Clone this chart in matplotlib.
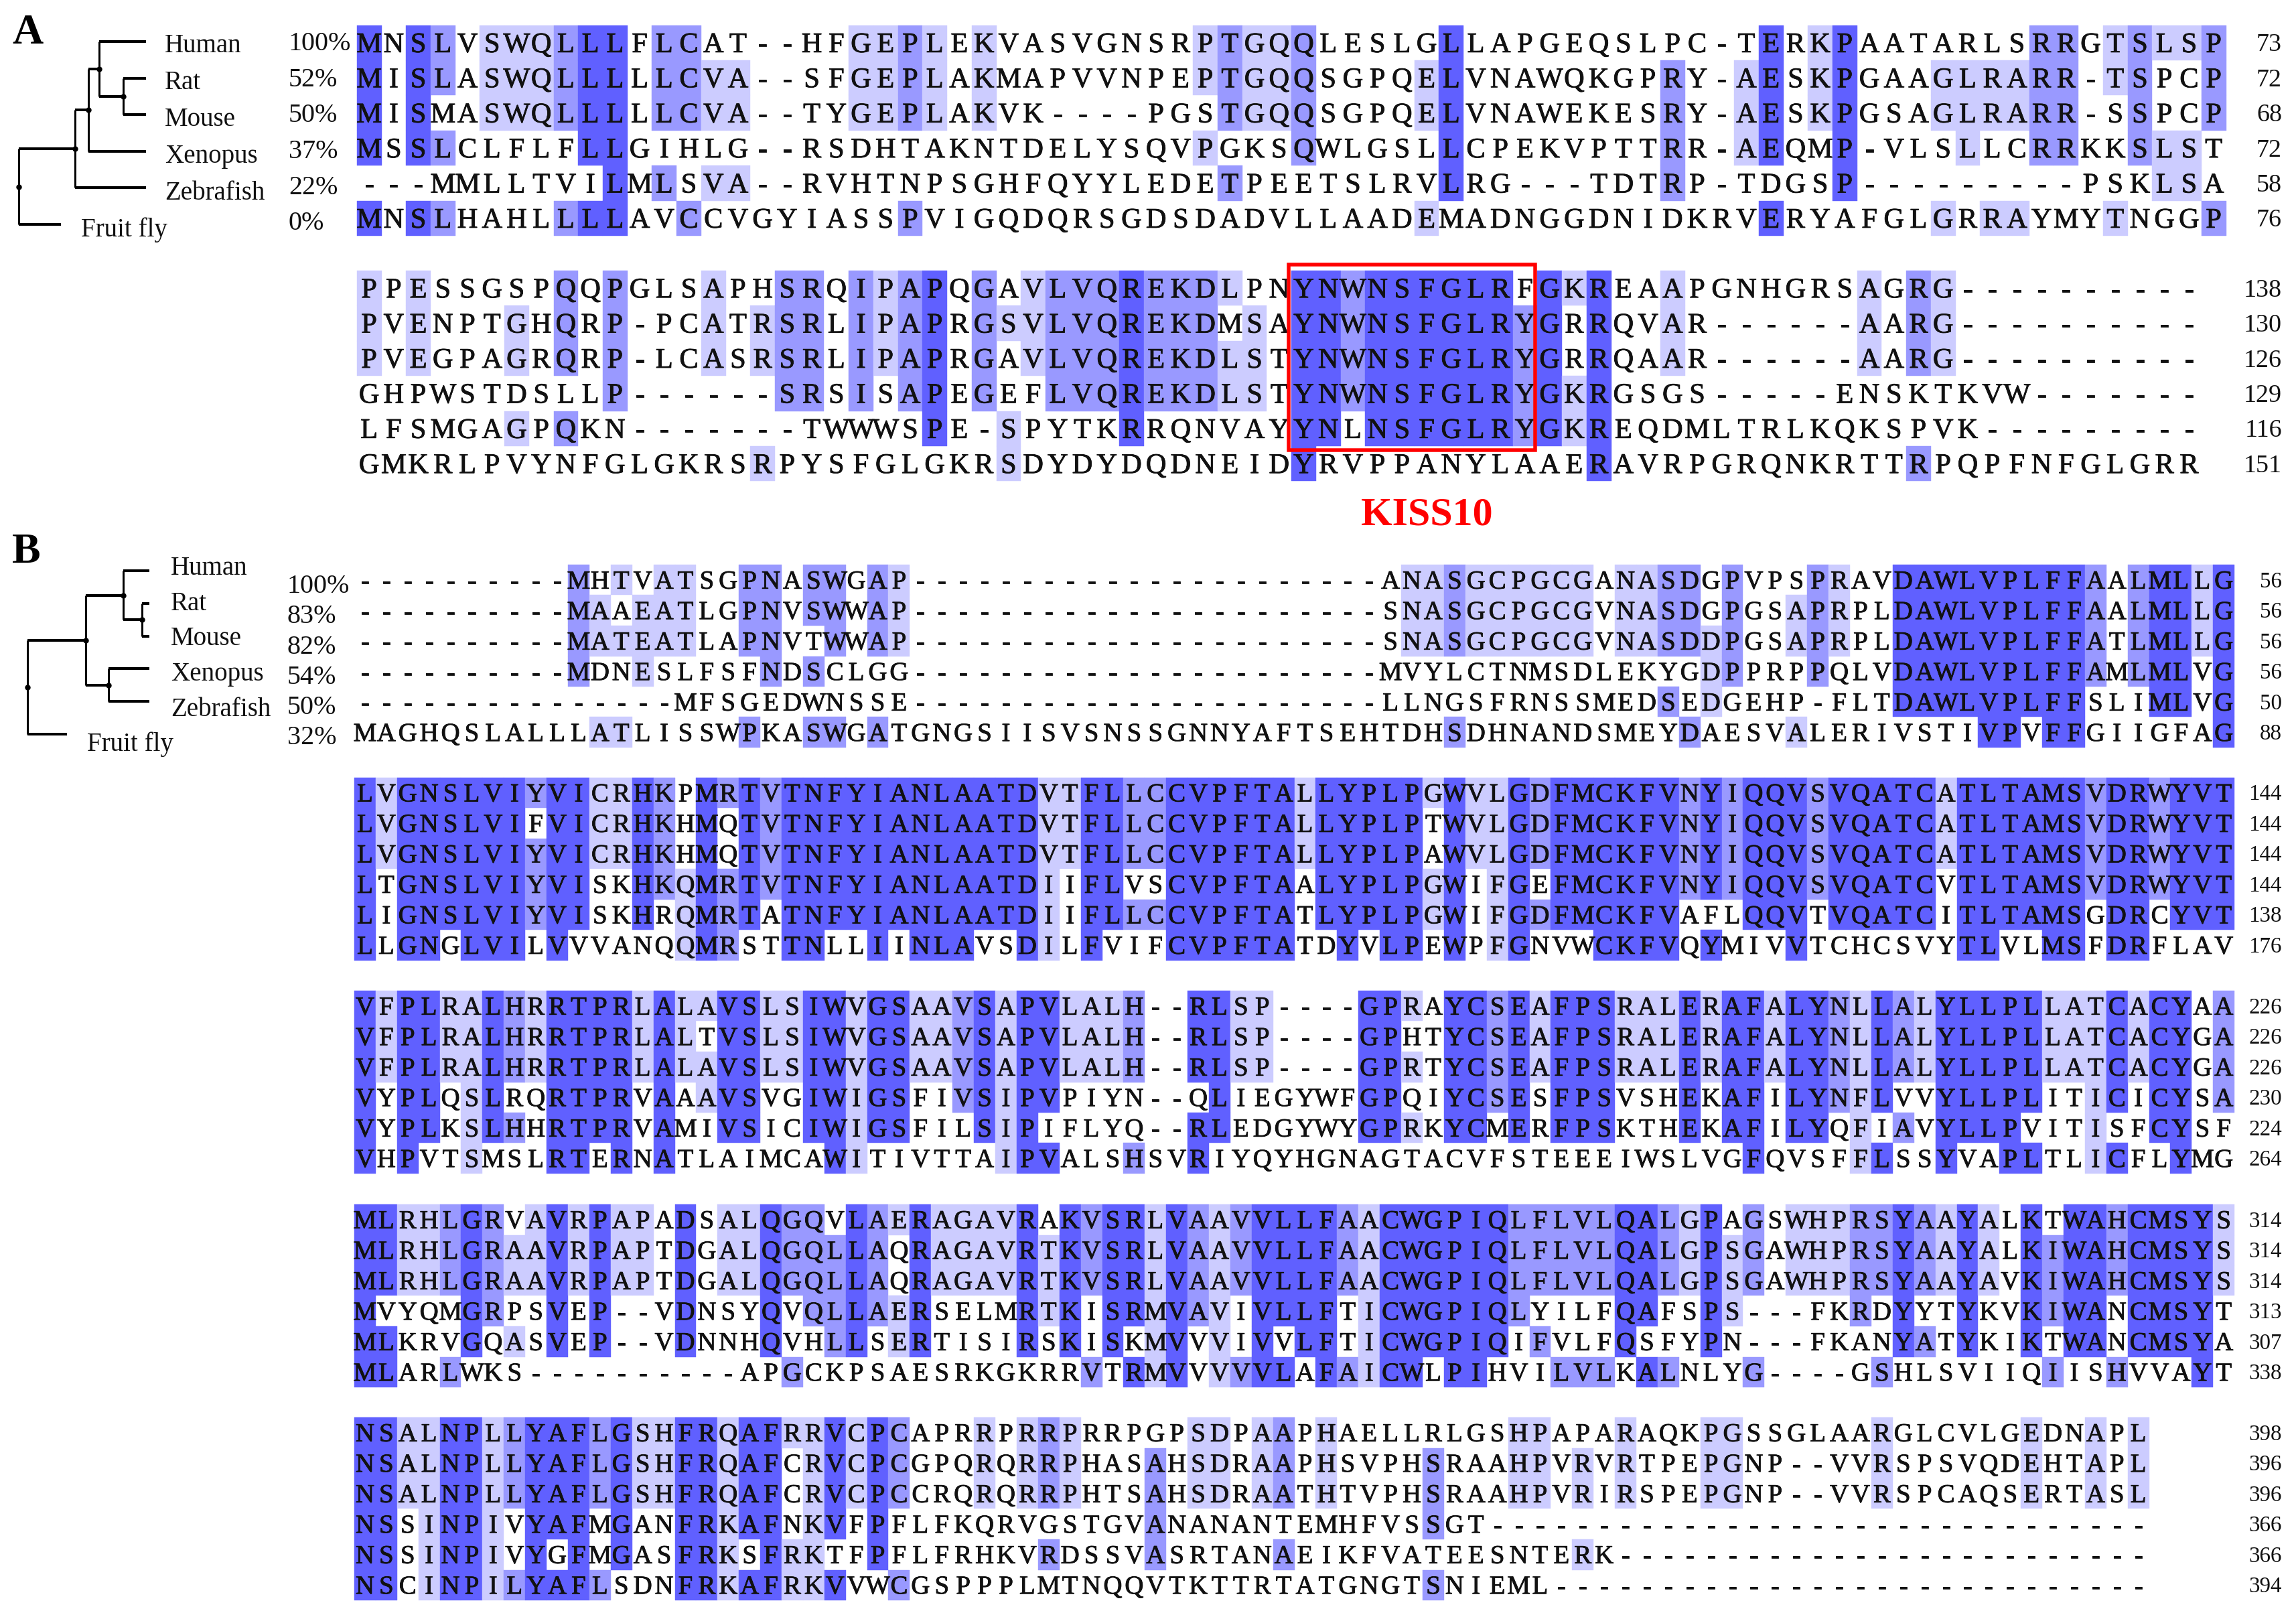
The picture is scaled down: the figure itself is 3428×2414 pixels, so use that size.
import matplotlib
matplotlib.use("Agg")
import matplotlib.pyplot as plt
import matplotlib.patheffects as pe
from matplotlib.patches import Rectangle
from collections import Counter

# ---------- data ----------
species = ["Human", "Rat", "Mouse", "Xenopus", "Zebrafish", "Fruit fly"]
identity_a = ["100%", "52%", "50%", "37%", "22%", "0%"]
identity_b = ["100%", "83%", "82%", "54%", "50%", "32%"]

a1 = ["MNSLVSWQLLLFLCAT--HFGEPLEKVASVGNSRPTGQQLESLGLLAPGEQSLPC-TERKPAATARLSRRGTSLSP",
      "MISLASWQLLLLLCVA--SFGEPLAKMAPVVNPEPTGQQSGPQELVNAWQKGPRY-AESKPGAAGLRARR-TSPCP",
      "MISMASWQLLLLLCVA--TYGEPLAKVK----PGSTGQQSGPQELVNAWEKESRY-AESKPGSAGLRARR-SSPCP",
      "MSSLCLFLFLLGIHLG--RSDHTAKNTDELYSQVPGKSQWLGSLLCPEKVPTTRR-AEQMP-VLSLLCRRKKSLST",
      "---MMLLTVILMLSVA--RVHTNPSGHFQYYLEDETPEETSLRVLRG---TDTRP-TDGSP---------PSKLSA",
      "MNSLHAHLLLLAVCCVGYIASSPVIGQDQRSGDSDADVLLAADEMADNGGDNIDKRVERYAFGLGRRAYMYTNGGP"]
a1_end = [73, 72, 68, 72, 58, 76]

a2 = ["PPESSGSPQQPGLSAPHSRQIPAPQGAVLVQREKDLPNYNWNSFGLRFGKREAAPGNHGRSAGRG----------",
      "PVENPTGHQRP-PCATRSRLIPAPRGSVLVQREKDMSAYNWNSFGLRYGRRQVAR------AARG----------",
      "PVEGPAGRQRP-LCASRSRLIPAPRGAVLVQREKDLSTYNWNSFGLRYGRRQAAR------AARG----------",
      "GHPWSTDSLLP------SRSISAPEGEFLVQREKDLSTYNWNSFGLRYGKRGSGS-----ENSKTKVW-------",
      "LFSMGAGPQKN-------TWWWSPE-SPYTKRRQNVAYYNLNSFGLRYGKREQDMLTRLKQKSPVK---------",
      "GMKRLPVYNFGLGKRSRPYSFGLGKRSDYDYDQDNEIDYRVPPANYLAAERAVRPGRQNKRTTRPQPFNFGLGRR"]
a2_end = [138, 130, 126, 129, 116, 151]

b1 = ["----------MHTVATSGPNASWGAP----------------------ANASGCPGCGANASDGPVPSPRAVDAWLVPLFFAALMLLG",
      "----------MAAEATLGPNVSWWAP----------------------SNASGCPGCGVNASDGPGSAPRPLDAWLVPLFFAALMLLG",
      "----------MATEATLAPNVTWWAP----------------------SNASGCPGCGVNASDDPGSAPRPLDAWLVPLFFATLMLLG",
      "----------MDNESLFSFNDSCLGG----------------------MVYLCTNMSDLEKYGDPPRPPQLVDAWLVPLFFAMLMLVG",
      "---------------MFSGEDWNSSE----------------------LLNGSFRNSSMEDSEDGEHP-FLTDAWLVPLFFSLIMLVG",
      "MAGHQSLALLLATLISSWPKASWGATGNGSIISVSNSSGNNYAFTSEHTDHSDHNANDSMEYDAESVALERIVSTIVPVFFGIIGFAG"]
b1_end = [56, 56, 56, 56, 50, 88]

b2 = ["LVGNSLVIYVICRHKPMRTVTNFYIANLAATDVTFLLCCVPFTALLYPLPGWVLGDFMCKFVNYIQQVSVQATCATLTAMSVDRWYVT",
      "LVGNSLVIFVICRHKHMQTVTNFYIANLAATDVTFLLCCVPFTALLYPLPTWVLGDFMCKFVNYIQQVSVQATCATLTAMSVDRWYVT",
      "LVGNSLVIYVICRHKHMQTVTNFYIANLAATDVTFLLCCVPFTALLYPLPAWVLGDFMCKFVNYIQQVSVQATCATLTAMSVDRWYVT",
      "LTGNSLVIYVISKHKQMRTVTNFYIANLAATDIIFLVSCVPFTAALYPLPGWIFGEFMCKFVNYIQQVSVQATCVTLTAMSVDRWYVT",
      "LIGNSLVIYVISKHRQMRTATNFYIANLAATDIIFLLCCVPFTATLYPLPGWIFGDFMCKFVAFLQQVTVQATCITLTAMSGDRCYVT",
      "LLGNGLVILVVVANQQMRSTTNLLIINLAVSDILFVIFCVPFTATDYVLPEWPFGNVWCKFVQYMIVVTCHCSVYTLVLMSFDRFLAV"]
b2_end = [144, 144, 144, 144, 138, 176]

b3 = ["VFPLRALHRRTPRLALAVSLSIWVGSAAVSAPVLALH--RLSP----GPRAYCSEAFPSRALERAFALYNLLALYLLPLLATCACYAA",
      "VFPLRALHRRTPRLALTVSLSIWVGSAAVSAPVLALH--RLSP----GPHTYCSEAFPSRALERAFALYNLLALYLLPLLATCACYGA",
      "VFPLRALHRRTPRLALAVSLSIWVGSAAVSAPVLALH--RLSP----GPRTYCSEAFPSRALERAFALYNLLALYLLPLLATCACYGA",
      "VYPLQSLRQRTPRVAAAVSVGIWIGSFIVSIPVPIYN--QLIEGYWFGPQIYCSESFPSVSHEKAFILYNFLVVYLLPLITICICYSA",
      "VYPLKSLHHRTPRVAMIVSICIWIGSFILSIPIFLYQ--RLEDGYWYGPRKYCMERFPSKTHEKAFILYQFIAVYLLPVITISFCYSF",
      "VHPVTSMSLRTERNATLAIMCAWITIVTTAIPVALSHSVRIYQYHGNAGTACVFSTEEEIWSLVGFQVSFFLSSYVAPLTLICFLYMG"]
b3_end = [226, 226, 226, 230, 224, 264]

b4 = ["MLRHLGRVAVRPAPADSALQGQVLAERAGAVRAKVSRLVAAVVLLFAACWGPIQLFLVLQALGPAGSWHPRSYAAYALKTWAHCMSYS",
      "MLRHLGRAAVRPAPTDGALQGQLLAQRAGAVRTKVSRLVAAVVLLFAACWGPIQLFLVLQALGPSGAWHPRSYAAYALKIWAHCMSYS",
      "MLRHLGRAAVRPAPTDGALQGQLLAQRAGAVRTKVSRLVAAVVLLFAACWGPIQLFLVLQALGPSGAWHPRSYAAYAVKIWAHCMSYS",
      "MVYQMGRPSVEP--VDNSYQVQLLAERSELMRTKISRMVAVIVLLFTICWGPIQLYILFQAFSPS---FKRDYYTYKVKIWANCMSYT",
      "MLKRVGQASVEP--VDNNHQVHLLSERTISIRSKISKMVVVIVVLFTICWGPIQIFVLFQSFYPN---FKANYATYKIKTWANCMSYA",
      "MLARLWKS----------APGCKPSAESRKGKRRVTRMVVVVVLAFAICWLPIHVILVLKALNLYG----GSHLSVIIQIISHVVAYT"]
b4_end = [314, 314, 314, 313, 307, 338]

b5 = ["NSALNPLLYAFLGSHFRQAFRRVCPCAPRRPRRPRRPGPSDPAAPHAELLRLGSHPAPARAQKPGSSGLAARGLCVLGEDNAPL",
      "NSALNPLLYAFLGSHFRQAFCRVCPCGPQRQRRPHASAHSDRAAPHSVPHSRAAHPVRVRTPEPGNP--VVRSPSVQDEHTAPL",
      "NSALNPLLYAFLGSHFRQAFCRVCPCCRQRQRRPHTSAHSDRAATHTVPHSRAAHPVRIRSPEPGNP--VVRSPCAQSERTASL",
      "NSSINPIVYAFMGANFRKAFNKVFPFLFKQRVGSTGVANANANTEMHFVSSGT-------------------------------",
      "NSSINPIVYGFMGASFRKSFRKTFPFLFRHKVRDSSVASRTANAEIKFVATEESNTERK-------------------------",
      "NSCINPILYAFLSDNFRKAFRKVVWCGSPPPLMTNQQVTKTTRTATGNGTSNIEML----------------------------"]
b5_end = [398, 396, 396, 366, 366, 394]

# phylogenies: (leaf name or list of children, branch length)
mice_a = ([("Rat", 34), ("Mouse", 34)], 36)
mammals_a = ([("Human", 70), mice_a], 16)
tetrapods_a = ([mammals_a, ("Xenopus", 86)], 20)
vertebrates_a = ([tetrapods_a, ("Zebrafish", 106)], 84)
tree_a = ([vertebrates_a, ("Fruit fly", 63.5)], 0)

mice_b = ([("Rat", 11), ("Mouse", 11)], 28)
mammals_b = ([("Human", 39), mice_b], 56)
fish_b = ([("Xenopus", 61), ("Zebrafish", 61)], 34)
vertebrates_b = ([mammals_b, fish_b], 87)
tree_b = ([vertebrates_b, ("Fruit fly", 59)], 0)

# ---------- layout / style ----------
W, H = 3428, 2414
DARK, MID, LIGHT = "#6060FF", "#9999FF", "#CCCCFF"
SERIF = ["Liberation Serif", "DejaVu Serif"]
def px(p):
    return p * 72 / 100

plt.rcParams["font.family"] = SERIF
fig = plt.figure(figsize=(W / 100, H / 100), dpi=100)
ax = fig.add_axes([0, 0, 1, 1])
ax.set_xlim(0, W)
ax.set_ylim(H, 0)
ax.axis("off")

HEAVY = [pe.withStroke(linewidth=px(0.8), foreground="#111111")]


def draw_block(rows, ends, x0, y0, cw, rh, fs, numfs, cap):
    ncol = max(len(r) for r in rows)
    for c in range(ncol):
        col = [r[c] if c < len(r) else "-" for r in rows]
        counts = Counter(ch for ch in col if ch != "-")
        xa, xb = round(x0 + c * cw), round(x0 + (c + 1) * cw)
        for i, ch in enumerate(col):
            n = counts.get(ch, 0)
            colour = DARK if n >= 5 else MID if n == 4 else LIGHT if n == 3 else None
            if colour:
                ya, yb = round(y0 + i * rh), round(y0 + (i + 1) * rh)
                ax.add_patch(Rectangle((xa, ya), xb - xa, yb - ya, fc=colour, ec=colour, lw=0.3,
                                       antialiased=True, zorder=1))
    for i, r in enumerate(rows):
        yb = y0 + (i + 0.5) * rh + cap / 2
        for c, ch in enumerate(r):
            t = ax.text(x0 + (c + 0.5) * cw, yb, ch, ha="center", va="baseline",
                        fontsize=px(fs), color="#111111", zorder=3)
            t.set_path_effects(HEAVY)
        ax.text(3407, y0 + (i + 0.5) * rh + numfs * 0.33, str(ends[i]), ha="right", va="baseline",
                fontsize=px(numfs), color="#111111", zorder=3)


XA, CWA, RHA, FA, CAPA = 532.8, 36.72, 52.4, 42.5, 28
XB, CWB, RHB, FB, CAPB = 529.0, 31.9, 45.5, 39, 26
draw_block(a1, a1_end, XA, 37.7, CWA, RHA, FA, 38, CAPA)
draw_block(a2, a2_end, XA, 404, CWA, RHA, FA, 38, CAPA)
draw_block(b1, b1_end, XB, 843, CWB, RHB, FB, 33, CAPB)
draw_block(b2, b2_end, XB, 1160.7, CWB, RHB, FB, 33, CAPB)
draw_block(b3, b3_end, XB, 1479, CWB, RHB, FB, 33, CAPB)
draw_block(b4, b4_end, XB, 1798, CWB, RHB, FB, 33, CAPB)
draw_block(b5, b5_end, XB, 2116, CWB, RHB, FB, 33, CAPB)

# KISS10 box and label
ax.add_patch(Rectangle((XA + 38 * CWA - 4, 395), 10 * CWA + 1, 277, fc="none", ec="#FF0000", lw=px(5.5), zorder=4))
ax.text(2130, 783, "KISS10", color="#FF0000", fontsize=px(60), fontweight="bold", ha="center", va="baseline", zorder=4)

# panel letters
ax.text(18, 65, "A", fontsize=px(64), fontweight="bold", ha="left", va="baseline", color="black")
ax.text(18, 840, "B", fontsize=px(64), fontweight="bold", ha="left", va="baseline", color="black")

# labels
def labels(names, xs, y0, step, fs, color="#111111"):
    for i, n in enumerate(names):
        x = xs[i] if isinstance(xs, (list, tuple)) else xs
        ax.text(x, y0 + i * step + fs * 0.33, n, fontsize=px(fs), ha="left", va="baseline", color=color)

labels(species, [246] * 5 + [121], 65, 55, 39)
labels(species, [255] * 5 + [130], 845, 52.7, 39)
labels(identity_a, 431, 62, 53.6, 40)
labels(identity_b, 429, 872, 45.2, 40)


def draw_tree(node, x0, leaf_y0, leaf_step):
    state = {"i": 0}
    def rec(n, x):
        children, blen = n
        xe = x + blen
        if isinstance(children, str):
            y = leaf_y0 + state["i"] * leaf_step
            state["i"] += 1
        else:
            ys = [rec(ch, xe) for ch in children]
            y = (min(ys) + max(ys)) / 2
            ax.plot([xe, xe], [min(ys), max(ys)], color="black", lw=px(3), solid_capstyle="butt", zorder=2)
            ax.plot([xe], [y], marker="o", ms=px(7), color="black", zorder=2)
        if blen > 0:
            ax.plot([x, xe], [y, y], color="black", lw=px(4), solid_capstyle="butt", zorder=2)
        return y
    rec(node, x0)

draw_tree(tree_a, 28, 62, 54.6)
draw_tree(tree_b, 41, 852, 48.8)

fig.savefig("out.png", dpi=100, facecolor="white")
